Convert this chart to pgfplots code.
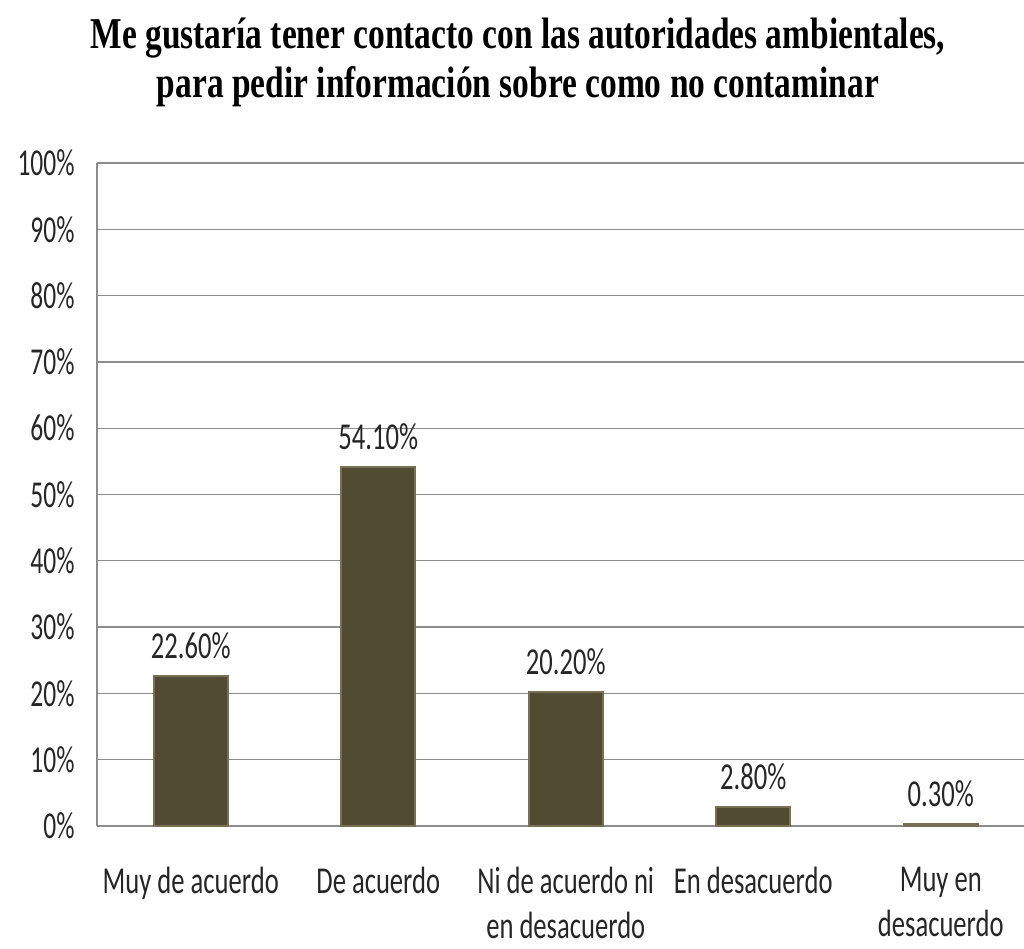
\documentclass[border=0pt]{standalone}
\usepackage{pgfplots}
\pgfplotsset{compat=1.18}
\usepackage{fontspec}
\setmainfont{Carlito}
\newfontfamily\labfont[FakeStretch=0.70]{Carlito}
\newfontfamily\ticfont[FakeStretch=0.67]{Carlito}
\newfontfamily\titfont[FakeStretch=0.76]{Liberation Serif}
\definecolor{barcol}{RGB}{80,75,49}
\definecolor{baredge}{RGB}{118,113,84}
\definecolor{gridcol}{RGB}{140,140,140}
\begin{document}
\begin{tikzpicture}
\path[use as bounding box] (0,0) rectangle (1024pt,949pt);
\node[anchor=base, align=center, font={\titfont\bfseries\fontsize{44}{49}\selectfont}]
  at (518pt,851pt) {Me gustaría tener contacto con las autoridades ambientales,\\para pedir información sobre como no contaminar};
\begin{axis}[
  at={(97pt,123pt)}, anchor=south west,
  scale only axis, width=927pt, height=663pt,
  xmin=-0.5, xmax=4.444, ymin=0, ymax=100,
  axis x line*=bottom, axis y line*=left,
  axis line style={gridcol, line width=1.5pt},
  x axis line style={-}, y axis line style={-},
  ytick={0,10,...,100},
  yticklabel={\pgfmathprintnumber{\tick}\%},
  ymajorgrids, major grid style={gridcol, line width=1.3pt},
  major tick length=0pt,
  xtick={0,1,2,3,4},
  xticklabels={Muy de acuerdo, De acuerdo, {Ni de acuerdo ni\\en desacuerdo}, En desacuerdo, {Muy en\\desacuerdo}},
  xticklabel style={align=center, font={\labfont\fontsize{38}{45}\selectfont}, color=black!85, anchor=north, yshift=-38pt},
  yticklabel style={font={\ticfont\fontsize{38}{43}\selectfont}, color=black!85, anchor=east, xshift=-19pt},
  /pgf/number format/assume math mode=true,
  nodes near coords={\pgfmathprintnumber[fixed,fixed zerofill,precision=2]{\pgfplotspointmeta}\%},
  nodes near coords style={font={\labfont\fontsize{38}{43}\selectfont}, color=black!85, anchor=south, yshift=13pt},
  point meta=y,
  clip=false,
]
\addplot[ybar, bar width=74pt, fill=barcol, draw=baredge, line width=2pt]
  coordinates {(0,22.6) (1,54.1) (2,20.2) (3,2.8) (4,0.3)};
\end{axis}
\end{tikzpicture}
\end{document}
